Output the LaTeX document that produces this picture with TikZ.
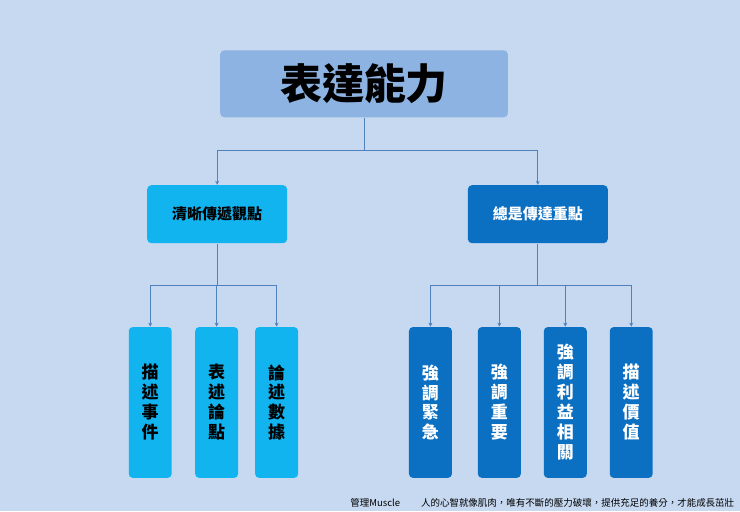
\documentclass[tikz,border=0pt]{standalone}
\usepackage{fontspec}
\newfontfamily\cjk{Noto Sans CJK TC}
\usetikzlibrary{arrows.meta}
\definecolor{bgblue}{HTML}{C6D9F1}
\definecolor{topblue}{HTML}{8DB3E2}
\definecolor{cyanbox}{HTML}{12B4F0}
\definecolor{darkbox}{HTML}{0B6FC2}
\definecolor{linecol}{HTML}{4F81BD}
\begin{document}
\begin{tikzpicture}[x=1pt,y=-1pt,font=\cjk,
  every path/.style={draw=linecol, thick},
  box/.style={rounded corners=4pt, draw=none, minimum width=140pt, minimum height=58pt, font=\cjk\bfseries\fontsize{15}{18}\selectfont},
  leaf/.style={rounded corners=4pt, draw=none, minimum width=43pt, minimum height=151pt, align=center, font=\cjk\bfseries\fontsize{17}{20}\selectfont},
  arr/.style={-{Stealth[length=4pt,width=4pt]}}]
\fill[bgblue] (0,0) rectangle (740,511);
\node[box, fill=topblue, minimum width=288pt, minimum height=67pt, font=\cjk\bfseries\fontsize{42}{48}\selectfont] (top) at (364,83.5) {表達能力};
\node[box, fill=cyanbox] (left) at (217,214) {清晰傳遞觀點};
\node[box, fill=darkbox, text=white] (right) at (538,214) {總是傳達重點};
\node[leaf, fill=cyanbox] (l1) at (150,402.5) {描\\述\\事\\件};
\node[leaf, fill=cyanbox] (l2) at (216.5,402.5) {表\\述\\論\\點};
\node[leaf, fill=cyanbox] (l3) at (276.5,402.5) {論\\述\\數\\據};
\node[leaf, fill=darkbox, text=white] (r1) at (430.5,402.5) {強\\調\\緊\\急};
\node[leaf, fill=darkbox, text=white] (r2) at (499.5,402.5) {強\\調\\重\\要};
\node[leaf, fill=darkbox, text=white] (r3) at (565.5,402.5) {強\\調\\利\\益\\相\\關};
\node[leaf, fill=darkbox, text=white] (r4) at (631.5,402.5) {描\\述\\價\\值};
\coordinate (tj) at (364,150);
\draw (top.south) -- (tj);
\draw[arr] (tj) -| (left.north);
\draw[arr] (tj) -| (right.north);
\coordinate (lj) at (217,285);
\draw (left.south) -- (lj);
\foreach \n in {l1,l2,l3} \draw[arr] (lj) -| (\n.north);
\coordinate (rj) at (538,285);
\draw (right.south) -- (rj);
\foreach \n in {r1,r2,r3,r4} \draw[arr] (rj) -| (\n.north);
\node[draw=none, anchor=east, inner sep=0pt, font=\cjk\fontsize{9.5}{11}\selectfont] (note) at (735,503) {管理Muscle\hspace{2.2em}人的心智就像肌肉，唯有不斷的壓力破壞，提供充足的養分，才能成長茁壯};
\end{tikzpicture}
\end{document}
